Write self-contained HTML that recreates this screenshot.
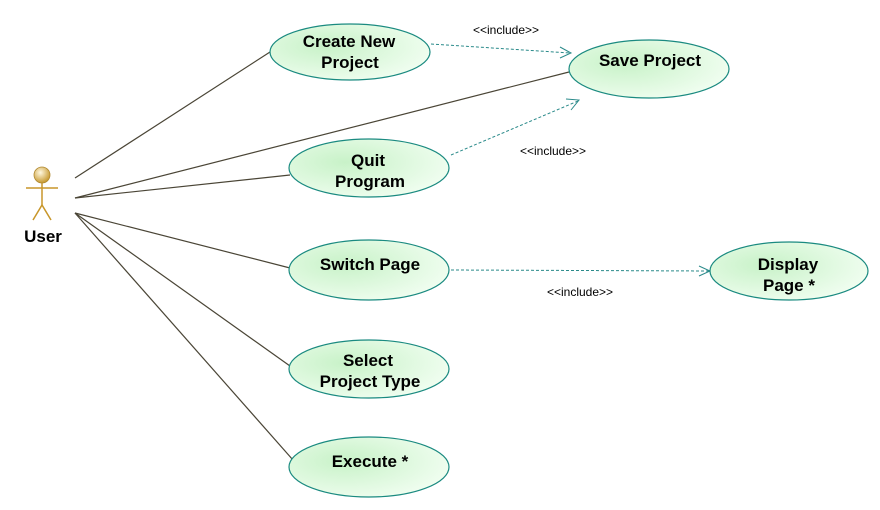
<!DOCTYPE html>
<html><head><meta charset="utf-8"><style>
html,body{margin:0;padding:0;background:#fff;}
svg{display:block;}
text{font-family:"Liberation Sans",sans-serif;}
.u{font-weight:bold;font-size:17px;fill:#000;text-anchor:middle;}
.i{font-size:12px;fill:#000;text-anchor:middle;}
</style></head><body>
<svg width="880" height="510" viewBox="0 0 880 510" xmlns="http://www.w3.org/2000/svg">
<defs>
<radialGradient id="g" cx="35%" cy="40%" r="75%">
<stop offset="0" stop-color="#c8f2c8"/><stop offset="1" stop-color="#f4fff4"/>
</radialGradient>
<radialGradient id="h" cx="40%" cy="35%" r="65%">
<stop offset="0" stop-color="#fff8e0"/><stop offset="1" stop-color="#c89a30"/>
</radialGradient>
</defs>
<g stroke="#4a4536" stroke-width="1.2">
<line x1="75" y1="178" x2="270" y2="52"/>
<line x1="75" y1="198" x2="569" y2="72"/>
<line x1="75" y1="198" x2="290" y2="175"/>
<line x1="75" y1="213" x2="290" y2="268"/>
<line x1="75" y1="213" x2="290" y2="366"/>
<line x1="75" y1="213" x2="293" y2="460"/>
</g>
<g stroke="#2a8a8a" stroke-width="1" stroke-dasharray="3,2" fill="none">
<line x1="431" y1="44" x2="570" y2="53"/>
<line x1="451" y1="155" x2="578" y2="101"/>
<line x1="451" y1="270" x2="709" y2="271"/>
</g>
<g stroke="#2a8a8a" stroke-width="1" fill="none">
<polyline points="560,47 571,53 560,58"/>
<polyline points="566,99 579,100 571,110"/>
<polyline points="699,266 710,271 699,276"/>
</g>
<g stroke="#1a8a80" stroke-width="1.2" fill="url(#g)">
<ellipse cx="350" cy="52" rx="80" ry="28"/>
<ellipse cx="649" cy="69" rx="80" ry="29"/>
<ellipse cx="369" cy="168" rx="80" ry="29"/>
<ellipse cx="369" cy="270" rx="80" ry="30"/>
<ellipse cx="789" cy="271" rx="79" ry="29"/>
<ellipse cx="369" cy="369" rx="80" ry="29"/>
<ellipse cx="369" cy="467" rx="80" ry="30"/>
</g>
<text class="u" x="349" y="47">Create New</text>
<text class="u" x="350" y="68">Project</text>
<text class="u" x="650" y="66">Save Project</text>
<text class="u" x="368" y="166">Quit</text>
<text class="u" x="370" y="187">Program</text>
<text class="u" x="370" y="270">Switch Page</text>
<text class="u" x="788" y="270">Display</text>
<text class="u" x="789" y="291">Page *</text>
<text class="u" x="368" y="366">Select</text>
<text class="u" x="370" y="387">Project Type</text>
<text class="u" x="370" y="467">Execute *</text>
<text class="i" x="506" y="34">&lt;&lt;include&gt;&gt;</text>
<text class="i" x="553" y="155">&lt;&lt;include&gt;&gt;</text>
<text class="i" x="580" y="296">&lt;&lt;include&gt;&gt;</text>
<g stroke="#c8962a" stroke-width="1.5" fill="none">
<line x1="26" y1="188" x2="58" y2="188"/>
<line x1="42" y1="183" x2="42" y2="205"/>
<polyline points="33,220 42,205 51,220"/>
</g>
<circle cx="42" cy="175" r="8" fill="url(#h)" stroke="#b08830" stroke-width="0.8"/>
<text class="u" x="43" y="242">User</text>
</svg>
</body></html>
